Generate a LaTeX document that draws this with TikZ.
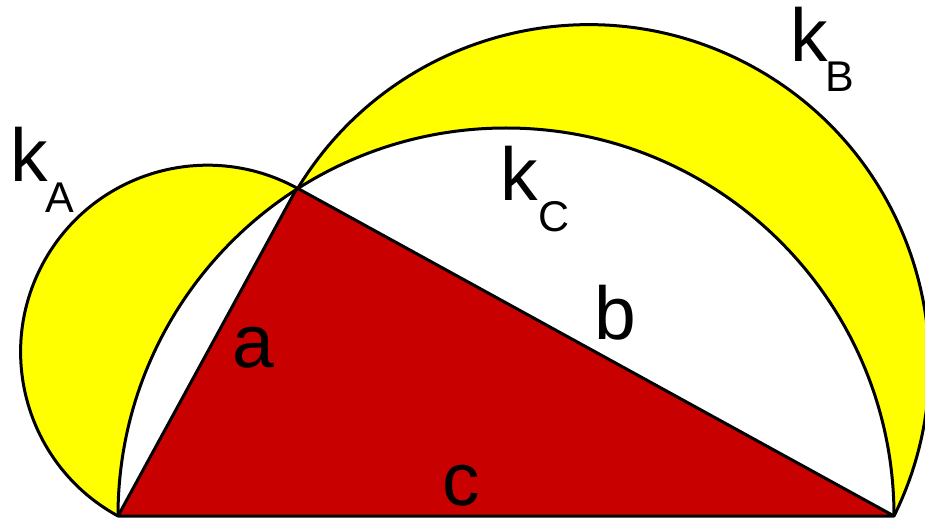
\documentclass[tikz,border=0pt]{standalone}
\usepackage{fontspec}
\setmainfont{Liberation Sans}
\definecolor{lune}{RGB}{255,255,0}
\definecolor{tri}{RGB}{200,0,0}
\begin{document}
\begin{tikzpicture}[x=1pt,y=1pt,
  edge/.style={draw=black,line width=3pt,line join=round},
  big/.style={font=\fontsize{75}{80}\selectfont,inner sep=0pt,anchor=base west},
  small/.style={font=\fontsize{43}{46}\selectfont,inner sep=0pt,anchor=base west}]
\useasboundingbox (0,0) rectangle (925,517);
\clip (0,0) rectangle (925,517);
\fill[white] (0,0) rectangle (925,517);
\coordinate (A) at (118,1);
\coordinate (B) at (894,1);
\coordinate (C) at (297,329);
% lunes (semicircles on the legs)
\fill[lune] (A) arc[start angle=241.4,end angle=61.4,radius=186.8] -- cycle;
\fill[lune] (B) arc[start angle=-26.3,end angle=148.7,radius=340.5] -- cycle;
% semicircle on hypotenuse
\fill[white] (B) arc[start angle=0,end angle=180,radius=388] -- cycle;
% triangle
\fill[tri] (A) -- (B) -- (C) -- cycle;
% outlines
\draw[edge] (A) arc[start angle=241.4,end angle=61.4,radius=186.8];
\draw[edge] (B) arc[start angle=-26.3,end angle=148.7,radius=340.5];
\draw[edge] (B) arc[start angle=0,end angle=180,radius=388];
\draw[edge] (A) -- (B) -- (C) -- cycle;
% labels
\node[big] (kA) at (10,335) {k};
\node[small] (kAs) at (45,304) {A};
\node[big] (kB) at (790,455) {k};
\node[small] (kBs) at (825,425) {B};
\node[big] (kC) at (500,316) {k};
\node[small] (kCs) at (538,285) {C};
\node[big] (la) at (232,150) {a};
\node[big] (lb) at (594,178) {b};
\node[big] (lc) at (442,12) {c};
\end{tikzpicture}
\end{document}
